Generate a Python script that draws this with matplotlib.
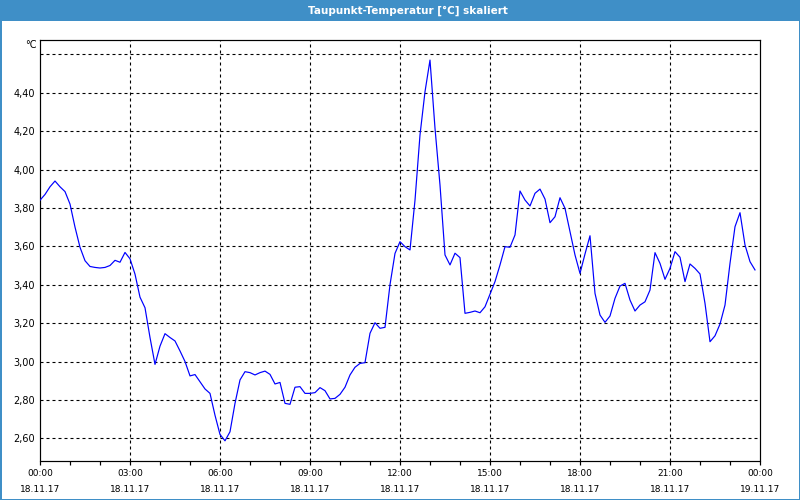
import numpy as np
import matplotlib
matplotlib.use("Agg")
import matplotlib.pyplot as plt
from matplotlib.patches import Rectangle
from matplotlib.transforms import blended_transform_factory, ScaledTranslation

# ---- data (10-minute samples starting 18.11.17 00:00) ----
values_00_06 = [3.84, 3.87, 3.91, 3.94, 3.91, 3.885, 3.82, 3.70, 3.595, 3.525, 3.495, 3.49,
                3.487, 3.49, 3.50, 3.527, 3.517, 3.568, 3.535, 3.455, 3.335, 3.28, 3.125, 2.985,
                3.08, 3.145, 3.125, 3.107, 3.055, 3.0, 2.925, 2.932, 2.895, 2.857, 2.834, 2.72, 2.62]
values_06_12 = [2.587, 2.634, 2.782, 2.904, 2.947, 2.942, 2.93, 2.942, 2.95, 2.933, 2.883, 2.891,
                2.782, 2.777, 2.866, 2.869, 2.834, 2.834, 2.838, 2.864, 2.848, 2.805, 2.808, 2.829,
                2.866, 2.93, 2.97, 2.99, 2.994, 3.147, 3.202, 3.173, 3.178, 3.40, 3.563]
values_12_18 = [3.624, 3.598, 3.581, 3.84, 4.18, 4.405, 4.57, 4.215, 3.919, 3.555, 3.503, 3.564,
                3.541, 3.251, 3.256, 3.263, 3.254, 3.285, 3.35, 3.416, 3.503, 3.598, 3.595, 3.659,
                3.888, 3.841, 3.81, 3.876, 3.898, 3.846, 3.723, 3.754, 3.853, 3.798, 3.676, 3.555, 3.459]
values_18_24 = [3.56, 3.655, 3.355, 3.242, 3.204, 3.237, 3.329, 3.393, 3.407, 3.32, 3.263, 3.294,
                3.311, 3.372, 3.567, 3.511, 3.428, 3.485, 3.572, 3.543, 3.416, 3.508, 3.485, 3.456,
                3.303, 3.103, 3.134, 3.195, 3.294, 3.511, 3.702, 3.775, 3.607, 3.52, 3.477]
values = values_00_06 + values_06_12 + values_12_18 + values_18_24
sample_minutes = 10
hours = np.arange(len(values)) * sample_minutes / 60.0

x_tick_hours = [0, 3, 6, 9, 12, 15, 18, 21, 24]
x_tick_times = ["00:00", "03:00", "06:00", "09:00", "12:00", "15:00", "18:00", "21:00", "00:00"]
x_tick_dates = ["18.11.17"] * 8 + ["19.11.17"]
y_ticks = [2.6, 2.8, 3.0, 3.2, 3.4, 3.6, 3.8, 4.0, 4.2, 4.4, 4.6]
y_tick_labels = ["2,60", "2,80", "3,00", "3,20", "3,40", "3,60", "3,80", "4,00", "4,20", "4,40", ""]
title = "Taupunkt-Temperatur [°C] skaliert"
unit = "°C"

# ---- styling ----
plt.rcParams["font.family"] = ["DejaVu Sans"]
plt.rcParams["lines.scale_dashes"] = False
BLUE = "#3f8fc7"
PX = 0.72  # points per pixel at dpi 100

fig = plt.figure(figsize=(8, 5), dpi=100, facecolor="white")
W, H = 800, 500
# title bar and frame
fig.patches.append(Rectangle((0, 1 - 21 / H), 1, 21 / H, transform=fig.transFigure,
                             facecolor=BLUE, edgecolor="none", zorder=0))
fig.patches.append(Rectangle((0, 0), 1, 1, transform=fig.transFigure, fill=False,
                             edgecolor=BLUE, lw=3 * PX, zorder=1))
fig.text(408 / W, 1 - 10.5 / H, title, color="white", fontsize=7.5, fontweight="bold",
         ha="center", va="center")

left, right, top, bottom = 40, 760, 40, 460.5
ax = fig.add_axes([left / W, 1 - bottom / H, (right - left) / W, (bottom - top) / H])
ax.set_facecolor("white")
ax.plot(hours, values, color="#0000ff", lw=1.0 * PX * 1.2, zorder=3, antialiased=True)

ax.set_xlim(0, 24)
ax.set_ylim(2.4844, 4.6745)

for s in ax.spines.values():
    s.set_linewidth(1.2 * PX)
    s.set_color("black")

ax.set_yticks(y_ticks)
ax.set_yticklabels(y_tick_labels, fontsize=7)
ax.tick_params(axis="y", length=0, pad=3.5, colors="black")
ax.set_xticks(np.arange(0, 25, 1))
ax.set_xticklabels([])
ax.tick_params(axis="x", length=4 * PX, width=1.2 * PX, direction="out", colors="black")

for yv in y_ticks:
    ax.axhline(yv, color="black", lw=1.1 * PX, dashes=(3 * PX, 3 * PX), zorder=1)
for xv in x_tick_hours[1:-1]:
    ax.axvline(xv, color="black", lw=1.1 * PX, dashes=(3 * PX, 3 * PX), zorder=1)

trans = blended_transform_factory(ax.transData, ax.transAxes)
for xv, t1, t2 in zip(x_tick_hours, x_tick_times, x_tick_dates):
    ax.text(xv, 0, t1, transform=trans + ScaledTranslation(0, -13 / 100, fig.dpi_scale_trans),
            ha="center", va="center", fontsize=6.5, color="black")
    ax.text(xv, 0, t2, transform=trans + ScaledTranslation(0, -29 / 100, fig.dpi_scale_trans),
            ha="center", va="center", fontsize=6.5, color="black")

fig.text(37 / W, 1 - 45 / H, unit, ha="right", va="center", fontsize=7, color="black")

fig.savefig("out.png", dpi=100, facecolor="white")
